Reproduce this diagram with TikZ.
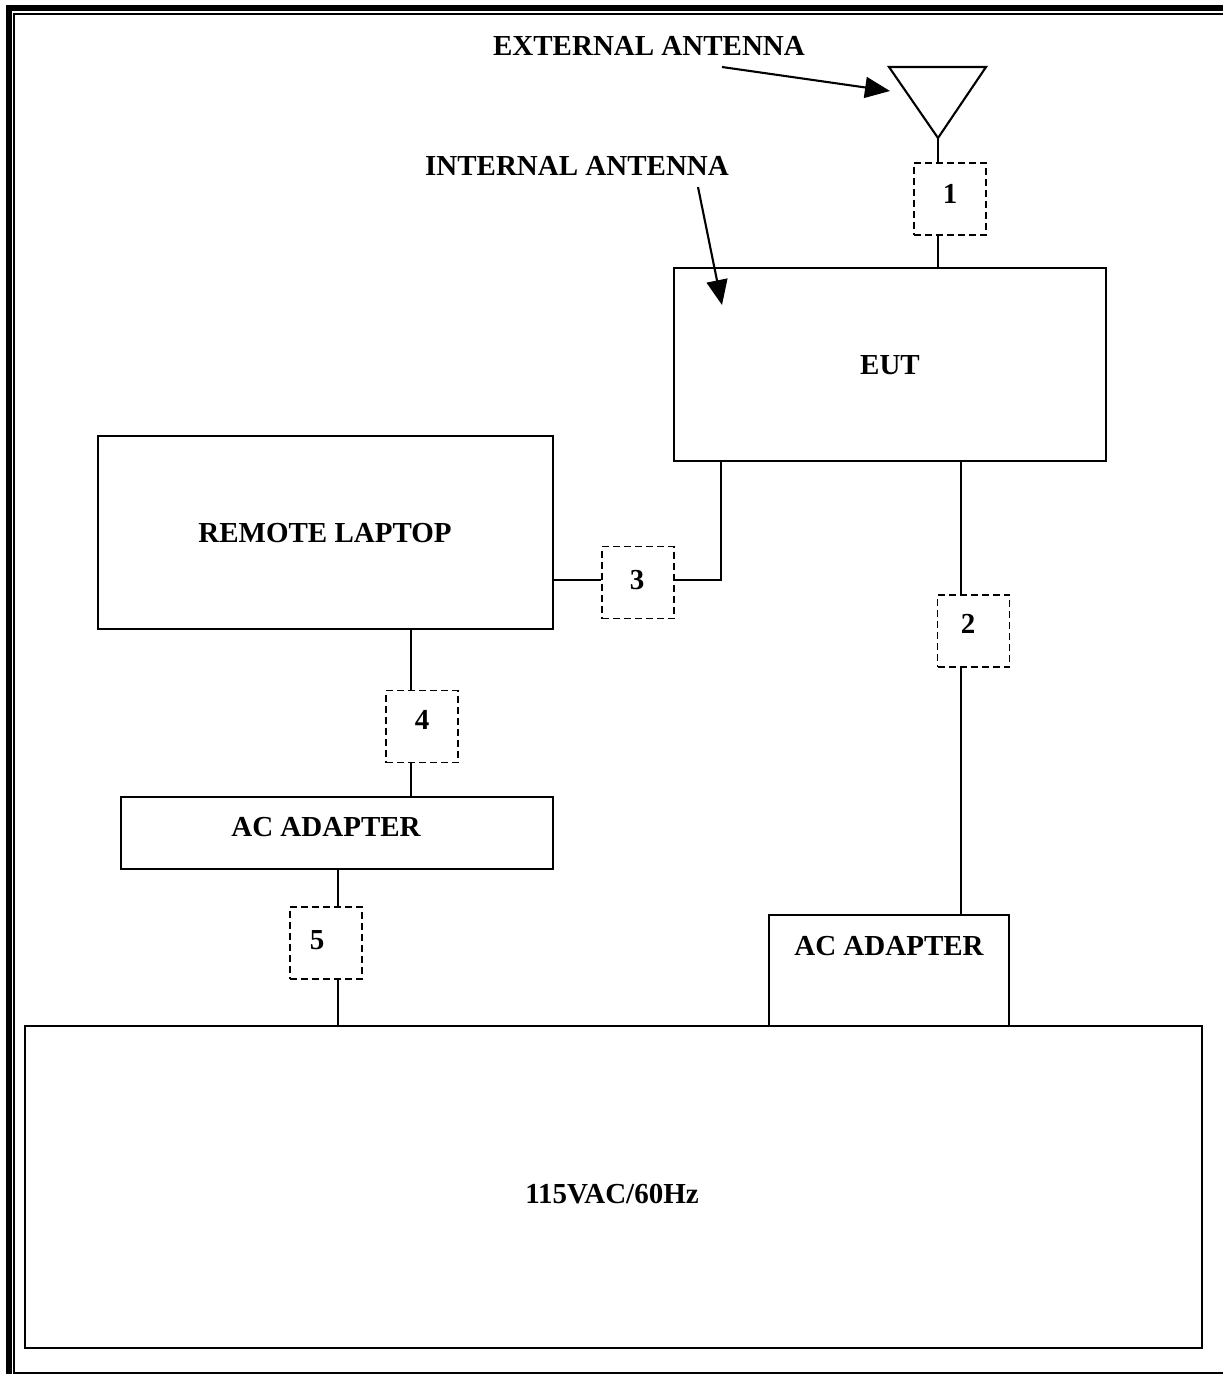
\documentclass[tikz,border=0pt]{standalone}
\usepackage{fontspec}
\setmainfont{Liberation Serif}
\usetikzlibrary{arrows.meta}
\begin{document}
\begin{tikzpicture}[x=1pt,y=-1pt,
  box/.style={draw,line width=2.1pt,inner sep=0pt},
  dbox/.style={draw,line width=1.9pt,dash pattern=on 7pt off 4pt,minimum width=72pt,minimum height=72pt,inner sep=0pt},
  lbl/.style={font=\fontsize{29}{34}\selectfont\bfseries,inner sep=0pt},
  wire/.style={line width=2.1pt},
  pointer/.style={line width=2.1pt,-{Triangle[length=25pt,width=21pt]}}]
\useasboundingbox (0,0) rectangle (1223,1374);
\begin{scope}
\clip (0,0) rectangle (1223,1374);
\draw[line width=6pt] (8.6,8.2) rectangle (1260,1400);
\draw[line width=2.2pt] (14.3,14.2) rectangle (1240,1373);
\end{scope}
% antenna
\coordinate (tl) at (889,67);
\coordinate (tr) at (986,67);
\coordinate (apex) at (938,138);
\draw[line width=2.1pt,line join=miter] (tl) -- (tr) -- (apex) -- cycle;
% boxes
\node[box,minimum width=432pt,minimum height=193pt] (eut) at (890,364.5) {};
\node[lbl] at (890,365) {EUT};
\node[box,minimum width=455pt,minimum height=193pt] (lap) at (325.5,532.5) {};
\node[lbl] at (325,533) {REMOTE LAPTOP};
\node[box,minimum width=432pt,minimum height=72pt] (acl) at (337,833) {};
\node[lbl] at (326,827) {AC ADAPTER};
\node[box,minimum width=240pt,minimum height=111pt] (acr) at (889,970.5) {};
\node[lbl] at (889,946) {AC ADAPTER};
\node[box,minimum width=1177pt,minimum height=322pt] (mains) at (613.5,1187) {};
\node[lbl] at (612,1194) {115VAC/60Hz};
% dashed boxes
\node[dbox] (d1) at (950,199) {};
\node[lbl] at (950,194) {1};
\node[dbox] (d2) at (973.5,631) {};
\node[lbl] at (968,624) {2};
\node[dbox] (d3) at (638,582.5) {};
\node[lbl] at (637,580) {3};
\node[dbox] (d4) at (422,726.5) {};
\node[lbl] at (422,720) {4};
\node[dbox] (d5) at (326,943) {};
\node[lbl] at (317,940) {5};
% wires
\draw[wire] (apex) -- (apex |- d1.north);
\draw[wire] (938,235) -- (938,268);
\draw[wire] (lap.east |- 0,580) -- (d3.west |- 0,580);
\draw[wire] (d3.east |- 0,580) -- (721,580) -- (721,461);
\draw[wire] (961,461) -- (961,595);
\draw[wire] (961,667) -- (961,915);
\draw[wire] (411,629) -- (411,690.5);
\draw[wire] (411,762.5) -- (411,797);
\draw[wire] (338,869) -- (338,907);
\draw[wire] (338,979) -- (338,1026);
% labels with pointers
\node[lbl] (ext) at (649,46) {EXTERNAL ANTENNA};
\node[lbl] (int) at (577,166) {INTERNAL ANTENNA};
\coordinate (ea) at (722,67);
\coordinate (ia) at (698,187);
\draw[pointer] (ea) -- (890,91);
\draw[pointer] (ia) -- (722,305);
\end{tikzpicture}
\end{document}
